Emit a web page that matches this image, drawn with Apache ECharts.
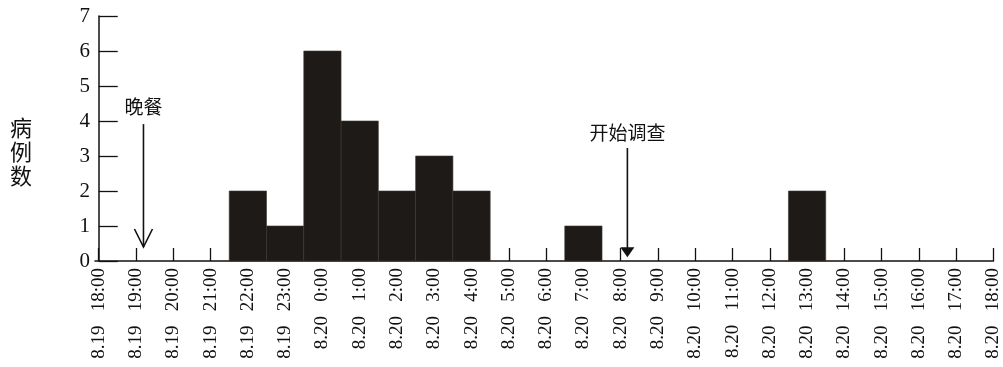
<!DOCTYPE html>
<html>
<head>
<meta charset="utf-8">
<script src="https://cdn.jsdelivr.net/npm/echarts@6/dist/echarts.min.js"></script>
<style>
html,body{margin:0;padding:0;background:#fff;}
#chart{width:1003px;height:367px;}
</style>
</head>
<body>
<div id="chart"></div>
<script>
// Tick labels (one per hour, 8.19 18:00 .. 8.20 18:00)
const hourLabels = [
  '8.19 18:00','8.19 19:00','8.19 20:00','8.19 21:00','8.19 22:00','8.19 23:00',
  '8.20 0:00','8.20 1:00','8.20 2:00','8.20 3:00','8.20 4:00','8.20 5:00',
  '8.20 6:00','8.20 7:00','8.20 8:00','8.20 9:00','8.20 10:00','8.20 11:00',
  '8.20 12:00','8.20 13:00','8.20 14:00','8.20 15:00','8.20 16:00','8.20 17:00',
  '8.20 18:00'
];
// Onset hours and number of cases
const onsetHours = ['8.19 22:00','8.19 23:00','8.20 0:00','8.20 1:00','8.20 2:00','8.20 3:00','8.20 4:00','8.20 7:00','8.20 13:00'];
const caseCounts = [2, 1, 6, 4, 2, 3, 2, 1, 2];
const yTicks = [0, 1, 2, 3, 4, 5, 6, 7];
// Annotations: label text and the hour (offset from 8.19 18:00) they point to
const annotationTexts = ['晚餐', '开始调查'];
const annotationHours = [1.2, 14.18];

const tickValues = hourLabels.map((_, i) => i);
const barData = onsetHours.map((h, i) => [hourLabels.indexOf(h), caseCounts[i]]);

// annotation geometry (y in data units): top of arrow, tip, text centre, head style
const annotationGeom = [
  {top: 3.91, tip: 0.4, text: 4.4, head: 'open'},
  {top: 3.23, tip: 0.11, text: 3.66, head: 'filled'}
];
const annData = annotationHours.map((h, i) => [h, annotationGeom[i].top, annotationGeom[i].tip, annotationGeom[i].text]);

const chart = echarts.init(document.getElementById('chart'), null, {renderer: 'canvas'});
const serif = '"Liberation Serif", "DejaVu Serif", serif';
const cjk = '"Noto Sans CJK SC", sans-serif';

chart.setOption({
  animation: false,
  backgroundColor: '#fff',
  grid: {left: 95, right: 8, top: 16, bottom: 106, containLabel: false},
  xAxis: {
    type: 'value',
    min: -0.1,
    max: 24,
    splitLine: {show: false},
    axisLine: {show: true, onZero: false, lineStyle: {color: '#111', width: 1.5}},
    axisTick: {show: true, inside: true, length: 13, customValues: tickValues, lineStyle: {color: '#111', width: 1.3}},
    axisLabel: {
      show: true,
      customValues: tickValues,
      rotate: 90,
      margin: 7,
      padding: [0, 0, 6, 0],
      color: '#111',
      fontFamily: serif,
      fontSize: 19,
      formatter: v => {
        const s = hourLabels[Math.round(v)] || '';
        return s.replace(' ', '   ');
      }
    }
  },
  yAxis: {
    type: 'value',
    min: 0,
    max: 7,
    interval: 1,
    splitLine: {show: false},
    axisLine: {show: true, lineStyle: {color: '#111', width: 1.5}},
    axisTick: {show: true, inside: true, length: 19, lineStyle: {color: '#111', width: 1.3}},
    axisLabel: {
      margin: 5,
      color: '#111',
      fontFamily: serif,
      fontSize: 21,
      formatter: v => (yTicks.indexOf(v) >= 0 ? String(v) : '')
    }
  },
  graphic: [
    {
      type: 'text',
      left: 10,
      top: 116,
      style: {text: '病\n例\n数', font: '22px ' + cjk, lineHeight: 24, fill: '#111', textAlign: 'left'}
    }
  ],
  series: [
    {
      type: 'custom',
      data: barData,
      encode: {x: 0, y: 1},
      z: 1,
      renderItem: function (params, api) {
        const x = api.value(0), y = api.value(1);
        const p0 = api.coord([x - 0.5, y]);
        const p1 = api.coord([x + 0.5, 0]);
        return {
          type: 'rect',
          shape: {x: p0[0], y: p0[1], width: p1[0] - p0[0], height: p1[1] - p0[1]},
          style: {fill: '#1e1a17', stroke: '#3a3633', lineWidth: 0.6}
        };
      }
    },
    {
      type: 'custom',
      data: annData,
      encode: {x: 0, y: 1},
      z: 5,
      clip: false,
      renderItem: function (params, api) {
        const i = params.dataIndex;
        const x = api.value(0);
        const top = api.coord([x, api.value(1)]);
        const tip = api.coord([x, api.value(2)]);
        const tc = api.coord([x, api.value(3)]);
        const children = [];
        const g = annotationGeom[i];
        if (g.head === 'open') {
          children.push({type: 'line', shape: {x1: top[0], y1: top[1], x2: tip[0], y2: tip[1]}, style: {stroke: '#111', lineWidth: 1.6}});
          children.push({type: 'polyline', shape: {points: [[tip[0] - 9, tip[1] - 18], [tip[0], tip[1]], [tip[0] + 9, tip[1] - 18]]}, style: {stroke: '#111', lineWidth: 1.6, fill: null}});
        } else {
          children.push({type: 'line', shape: {x1: top[0], y1: top[1], x2: tip[0], y2: tip[1] - 8}, style: {stroke: '#111', lineWidth: 1.6}});
          children.push({type: 'polygon', shape: {points: [[tip[0] - 7, tip[1] - 10], [tip[0] + 7, tip[1] - 10], [tip[0], tip[1]]]}, style: {fill: '#111'}});
        }
        children.push({type: 'text', x: tc[0], y: tc[1], style: {text: annotationTexts[i], font: '19px ' + cjk, fill: '#111', align: 'center', verticalAlign: 'middle'}});
        return {type: 'group', children: children};
      }
    }
  ]
});
</script>
</body>
</html>
